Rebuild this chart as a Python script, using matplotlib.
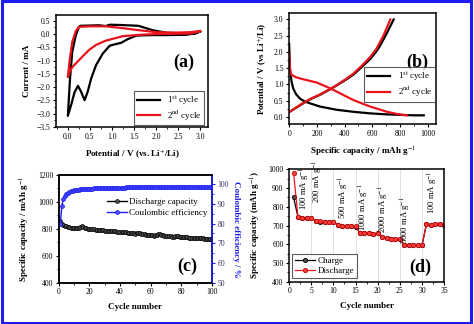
import numpy as np
import matplotlib
matplotlib.use("Agg")
import matplotlib.pyplot as plt
from matplotlib.patches import Rectangle
from matplotlib.ticker import AutoMinorLocator

plt.rcParams['font.family'] = 'serif'
plt.rcParams['font.serif'] = ['Liberation Serif', 'DejaVu Serif']
plt.rcParams['mathtext.fontset'] = 'stix'

# ---- (a) cyclic voltammetry: (potential V, current mA)
cv1_v = [3.0, 2.9, 2.68, 2.23, 1.93, 1.7, 1.55, 1.35, 1.21, 1.06, 0.95, 0.79, 0.64, 0.53, 0.45, 0.38,
         0.3, 0.23, 0.15, 0.075, 0.0, 0.05, 0.1, 0.18, 0.25, 0.28, 0.5, 0.7, 0.86, 0.95, 1.2, 1.6, 1.7,
         1.93, 2.23, 2.68, 2.9, 3.0]
cv1_i = [0.1, 0.03, -0.03, -0.04, -0.04, -0.05, -0.06, -0.2, -0.33, -0.39, -0.44, -0.74, -1.17, -1.67,
         -2.17, -2.49, -2.17, -1.95, -2.2, -2.67, -3.08, -1.67, -0.67, -0.05, 0.26, 0.31, 0.32, 0.33,
         0.3, 0.35, 0.34, 0.31, 0.26, 0.14, 0.05, 0.03, 0.03, 0.1]
cv2_v = [3.0, 2.78, 2.0, 1.63, 1.25, 0.86, 0.64, 0.48, 0.33, 0.22, 0.11, 0.04, 0.0, 0.04, 0.1, 0.18,
         0.25, 0.5, 0.86, 1.25, 1.63, 2.0, 2.4, 2.78, 3.0]
cv2_i = [0.11, 0.02, 0.0, -0.03, -0.08, -0.25, -0.41, -0.6, -0.85, -1.04, -1.23, -1.42, -1.62, -1.0,
         -0.3, 0.11, 0.27, 0.29, 0.29, 0.22, 0.14, 0.07, 0.05, 0.07, 0.11]

# ---- (b) galvanostatic profiles: (capacity mAh/g, potential V)
dis1_c = [0, 5, 17, 29, 50, 77, 110, 150, 222, 343, 460, 584, 700, 826, 900, 971]
dis1_v = [2.25, 1.5, 1.1, 0.88, 0.7, 0.57, 0.48, 0.42, 0.32, 0.22, 0.16, 0.11, 0.08, 0.06, 0.05, 0.05]
ch1_c = [0, 50, 101, 160, 222, 300, 343, 400, 463, 520, 584, 630, 657, 705, 754]
ch1_v = [0.15, 0.28, 0.42, 0.56, 0.68, 0.86, 0.97, 1.12, 1.3, 1.52, 1.78, 2.02, 2.2, 2.58, 3.0]
dis2_c = [0, 5, 10, 17, 50, 101, 198, 270, 343, 463, 584, 705, 780, 826, 850]
dis2_v = [2.0, 1.55, 1.38, 1.3, 1.22, 1.16, 1.06, 0.93, 0.78, 0.52, 0.32, 0.16, 0.09, 0.06, 0.05]
ch2_c = [0, 50, 101, 160, 222, 300, 343, 400, 463, 520, 584, 630, 680, 730]
ch2_v = [0.15, 0.29, 0.43, 0.57, 0.69, 0.87, 0.98, 1.14, 1.33, 1.56, 1.84, 2.1, 2.5, 3.0]

# ---- (c) cycling performance
cycles_c = list(range(1, 101))
discharge_c = [860, 838, 828, 822, 818, 815, 812, 810, 808, 806,
               805, 806, 808, 812, 818, 815, 810, 806, 803, 800,
               799, 797, 796, 795, 794, 793, 792, 791, 790, 788,
               787, 786, 785, 784, 783, 782, 781, 780, 779, 778,
               777, 776, 775, 774, 772, 771, 770, 768, 766, 765,
               766, 769, 768, 764, 761, 759, 757, 756, 754, 753,
               752, 751, 752, 758, 762, 760, 756, 752, 749, 747,
               746, 745, 744, 743, 742, 744, 746, 745, 743, 741,
               740, 739, 738, 737, 736, 735, 734, 735, 736, 735,
               733, 731, 730, 729, 728, 727, 726, 725, 724, 722]
ce_c = [80.0, 89.0, 92.5, 94.0, 95.0, 95.6, 96.0, 96.3, 96.6, 96.8,
        97.0, 97.1, 97.2, 97.3, 97.4, 97.5, 97.5, 97.6, 97.6, 97.7,
        97.7, 97.7, 97.8, 97.8, 97.8, 97.9, 97.9, 97.9, 98.0, 98.0,
        98.0, 98.0, 98.1, 98.1, 98.1, 98.1, 98.1, 98.2, 98.2, 98.2,
        98.2, 98.2, 98.2, 98.3, 98.3, 98.3, 98.3, 98.3, 98.3, 98.4,
        98.4, 98.4, 98.4, 98.4, 98.4, 98.5, 98.5, 98.5, 98.5, 98.5,
        98.5, 98.5, 98.6, 98.6, 98.6, 98.7, 98.6, 98.5, 98.5, 98.5,
        98.5, 98.5, 98.5, 98.5, 98.6, 98.6, 98.6, 98.6, 98.5, 98.5,
        98.5, 98.5, 98.6, 98.6, 98.6, 98.6, 98.6, 98.6, 98.6, 98.6,
        98.7, 98.7, 98.6, 98.6, 98.6, 98.6, 98.5, 98.5, 98.5, 98.5]

# ---- (d) rate capability
cycles_d = list(range(1, 36))
charge_d = [850, 744, 739, 739, 741, 724, 721, 719, 719, 717,
            704, 699, 697, 696, 694, 659, 661, 659, 654, 659,
            637, 631, 629, 629, 627, 597, 596, 596, 595, 594,
            707, 704, 706, 707, 704]
discharge_d = [980, 745, 740, 740, 742, 725, 722, 720, 720, 718,
               705, 700, 698, 697, 695, 660, 662, 660, 655, 660,
               638, 632, 630, 630, 628, 598, 597, 597, 596, 595,
               708, 705, 707, 708, 705]
rate_labels = ['100 mA g$^{-1}$', '200 mA g$^{-1}$', '500 mA g$^{-1}$', '1000 mA g$^{-1}$',
               '2000 mA g$^{-1}$', '5000 mA g$^{-1}$', '100 mA g$^{-1}$']
rate_x = [3.5, 6.6, 12.3, 16.9, 21.5, 26.4, 32.5]
rate_y = [782, 818, 735, 672, 660, 600, 762]

RED = '#e8141c'
BLUE = '#1c1cf0'
TICK = 5.5
LAB = 6.5

fig = plt.figure(figsize=(4.74, 3.24), dpi=100)
fig.patches.append(Rectangle((0.0032, 0.0046), 0.9905, 0.9908, transform=fig.transFigure,
                             fill=False, edgecolor=BLUE, linewidth=2.2))


def style(ax):
    for s in ax.spines.values():
        s.set_linewidth(1.1)
    ax.tick_params(direction='out', length=2.5, width=0.8, labelsize=TICK, pad=1.5)
    ax.tick_params(which='minor', direction='out', length=1.5, width=0.6)
    ax.xaxis.set_minor_locator(AutoMinorLocator(2))
    ax.yaxis.set_minor_locator(AutoMinorLocator(2))


# (a)
ax = fig.add_axes([0.118, 0.608, 0.321, 0.346])
ax.plot(cv1_v, cv1_i, color='black', lw=1.6, label='1$^{\\rm st}$ cycle')
ax.plot(cv2_v, cv2_i, color=RED, lw=1.6, label='2$^{\\rm nd}$ cycle')
ax.set_xlim(-0.27, 3.18)
ax.set_ylim(-3.5, 0.72)
ax.set_xticks(np.arange(0, 3.01, 0.5))
ax.set_yticks(np.arange(-3.5, 0.51, 0.5))
style(ax)
ax.set_xlabel('Potential / V (vs. Li$^{+}$/Li)', fontsize=LAB, fontweight='bold', labelpad=5)
ax.set_ylabel('Current / mA', fontsize=LAB, fontweight='bold', labelpad=4)
ax.text(0.84, 0.58, '(a)', transform=ax.transAxes, fontsize=13, fontweight='bold',
        ha='center', va='center')
lg = ax.legend(loc='lower right', bbox_to_anchor=(0.975, 0.015), fontsize=6.5, frameon=True,
               fancybox=False, edgecolor='#333333', handlelength=2.6, borderaxespad=0,
               borderpad=0.3, labelspacing=0.2)
lg.get_frame().set_linewidth(0.8)

# (b)
ax = fig.add_axes([0.610, 0.617, 0.310, 0.343])
ax.plot(dis1_c, dis1_v, color='black', lw=1.6, label='1$^{\\rm st}$ cycle')
ax.plot(ch1_c, ch1_v, color='black', lw=1.6)
ax.plot(dis2_c, dis2_v, color=RED, lw=1.6, label='2$^{\\rm nd}$ cycle')
ax.plot(ch2_c, ch2_v, color=RED, lw=1.6)
ax.set_xlim(0, 1060)
ax.set_ylim(-0.22, 3.2)
ax.set_xticks(np.arange(0, 1001, 200))
ax.set_yticks(np.arange(0, 3.01, 0.5))
style(ax)
ax.set_xlabel('Specific capacity / mAh g$^{-1}$', fontsize=LAB, fontweight='bold', labelpad=5)
ax.set_ylabel('Potential / V (vs Li$^{+}$/Li)', fontsize=LAB, fontweight='bold', labelpad=4)
ax.text(0.87, 0.56, '(b)', transform=ax.transAxes, fontsize=13, fontweight='bold',
        ha='center', va='center')
lg = ax.legend(loc='lower right', bbox_to_anchor=(0.99, 0.2), fontsize=6.5, frameon=True,
               fancybox=False, edgecolor='#333333', handlelength=2.6, borderaxespad=0,
               borderpad=0.3, labelspacing=0.2)
lg.get_frame().set_linewidth(0.8)

# (c)
ax = fig.add_axes([0.124, 0.127, 0.323, 0.333])
ax2 = ax.twinx()
l1, = ax.plot(cycles_c, discharge_c, color='black', lw=1.0, marker='o', ms=2.8,
              mfc='#555555', mec='black', mew=0.5, label='Discharge capacity')
l2, = ax2.plot(cycles_c, ce_c, color=BLUE, lw=1.0, marker='o', ms=2.8,
               mfc='#4a4aff', mec=BLUE, mew=0.5, label='Coulombic efficiency')
ax.set_xlim(0, 100)
ax.set_ylim(400, 1200)
ax2.set_ylim(50, 104.6)
ax.set_xticks(np.arange(0, 101, 20))
ax.set_yticks(np.arange(400, 1201, 200))
ax2.set_yticks(np.arange(50, 101, 10))
style(ax)
ax2.tick_params(direction='out', length=2.5, width=0.8, labelsize=TICK, pad=1.5,
                color=BLUE, labelcolor='#333366')
ax2.tick_params(which='minor', direction='out', length=1.5, width=0.6, color=BLUE)
ax2.yaxis.set_minor_locator(AutoMinorLocator(2))
for s in ax2.spines.values():
    s.set_linewidth(1.1)
ax2.spines['right'].set_color(BLUE)
ax.set_xlabel('Cycle number', fontsize=LAB, fontweight='bold', labelpad=5)
ax.set_ylabel('Specific capacity / mAh g$^{-1}$', fontsize=LAB, fontweight='bold', labelpad=4)
ax2.set_ylabel('Coulombic efficiency / %', fontsize=LAB, fontweight='bold', color=BLUE,
               rotation=270, labelpad=8)
ax.text(0.84, 0.15, '(c)', transform=ax.transAxes, fontsize=13, fontweight='bold',
        ha='center', va='center')
ax.legend(handles=[l1, l2], loc='upper left', bbox_to_anchor=(0.29, 0.82), fontsize=6.5,
          frameon=False, numpoints=1, handlelength=2.2, handletextpad=0.3, labelspacing=0.25,
          borderaxespad=0)

# (d)
ax = fig.add_axes([0.610, 0.130, 0.327, 0.348])
for xv in range(5, 35, 5):
    ax.axvline(xv, color='#dcdcdc', lw=0.6, zorder=0)
ax.plot(cycles_d, charge_d, color='black', lw=0.9, marker='o', ms=3.2, mfc='#444444',
        mec='black', mew=0.5, label='Charge')
ax.plot(cycles_d, discharge_d, color=RED, lw=0.9, marker='o', ms=3.2, mfc='#f03c3c',
        mec='#c00000', mew=0.5, label='Discharge')
for xv, yv, txt in zip(rate_x, rate_y, rate_labels):
    ax.text(xv, yv, txt, rotation=90, ha='center', va='bottom', fontsize=6.2)
ax.set_xlim(0, 35)
ax.set_ylim(400, 1000)
ax.set_xticks(np.arange(0, 36, 5))
ax.set_yticks(np.arange(400, 1001, 100))
style(ax)
ax.set_xlabel('Cycle number', fontsize=LAB, fontweight='bold', labelpad=5)
ax.set_ylabel('Specific capacity (mAh g$^{-1}$)', fontsize=LAB, fontweight='bold', labelpad=4)
ax.text(0.845, 0.13, '(d)', transform=ax.transAxes, fontsize=13, fontweight='bold',
        ha='center', va='center')
lg = ax.legend(loc='lower left', bbox_to_anchor=(0.02, 0.035), fontsize=6.5, frameon=True,
               fancybox=False, edgecolor='#333333', handlelength=2.2, numpoints=1,
               borderaxespad=0, borderpad=0.3, labelspacing=0.2, handletextpad=0.3)
lg.get_frame().set_linewidth(0.8)

fig.savefig('out.png', dpi=100)
